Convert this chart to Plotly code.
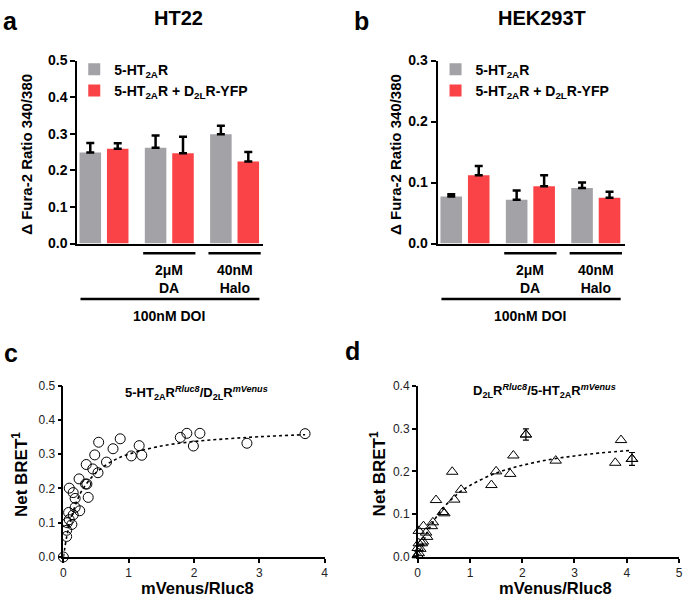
import plotly.graph_objects as go

# ---------------- data ----------------
groups = [0, 1, 2]  # 100nM DOI, +2uM DA, +40nM Halo

ht22_gray = [0.249, 0.262, 0.299]
ht22_gray_err = [0.026, 0.033, 0.023]
ht22_red = [0.259, 0.247, 0.224]
ht22_red_err = [0.015, 0.045, 0.026]

hek_gray = [0.077, 0.072, 0.091]
hek_gray_err = [0.004, 0.015, 0.009]
hek_red = [0.112, 0.094, 0.075]
hek_red_err = [0.015, 0.018, 0.010]

legend_gray = "5-HT<sub>2A</sub>R"
legend_red = "5-HT<sub>2A</sub>R + D<sub>2L</sub>R-YFP"
bar_yticks = [0.0, 0.1, 0.2, 0.3, 0.4, 0.5]
hek_yticks = [0.0, 0.1, 0.2, 0.3]

# panel c: 5-HT2AR-Rluc8 / D2LR-mVenus saturation
c_x = [0.0, 0.05, 0.05, 0.06, 0.08, 0.09, 0.09, 0.13, 0.15, 0.15, 0.18, 0.18, 0.24,
       0.25, 0.34, 0.36, 0.35, 0.38, 0.45, 0.48, 0.53, 0.54, 0.66, 0.76, 0.87, 1.04,
       1.16, 1.20, 1.79, 1.89, 1.99, 2.09, 2.81, 3.70]
c_y = [0.0, 0.060, 0.078, 0.100, 0.130, 0.109, 0.201, 0.095, 0.123, 0.188, 0.171, 0.145,
       0.228, 0.135, 0.213, 0.213, 0.270, 0.174, 0.257, 0.298, 0.246, 0.335, 0.277, 0.316,
       0.345, 0.295, 0.325, 0.297, 0.349, 0.361, 0.324, 0.361, 0.332, 0.360]
c_fit_x = [0.0, 0.05, 0.1, 0.2, 0.3, 0.5, 0.75, 1.0, 1.5, 2.0, 2.5, 3.0, 3.7]
c_fit_y = [0.0, 0.058, 0.101, 0.160, 0.199, 0.246, 0.280, 0.300, 0.324, 0.337, 0.345, 0.351, 0.357]

# panel d: D2LR-Rluc8 / 5-HT2AR-mVenus saturation
d_x = [0.0, 0.02, 0.05, 0.0, 0.02, 0.08, 0.10, 0.02, 0.11, 0.16, 0.18, 0.27, 0.29,
       0.35, 0.48, 0.51, 0.66, 0.70, 0.83, 1.41, 1.50, 1.77, 1.83, 2.07, 2.64, 3.78,
       3.89, 4.10]
d_y = [0.004, 0.009, 0.019, 0.021, 0.032, 0.032, 0.036, 0.061, 0.072, 0.057, 0.047,
       0.072, 0.081, 0.133, 0.105, 0.102, 0.199, 0.134, 0.157, 0.168, 0.200, 0.194,
       0.237, 0.286, 0.225, 0.220, 0.273, 0.229]
d_err = [0, 0, 0, 0, 0, 0, 0, 0, 0, 0, 0, 0, 0, 0, 0, 0, 0, 0, 0, 0, 0, 0, 0,
         0.013, 0, 0, 0, 0.015]
d_fit_x = [0.0, 0.1, 0.2, 0.3, 0.5, 0.75, 1.0, 1.5, 2.0, 2.5, 3.0, 3.5, 4.1]
d_fit_y = [0.0, 0.034, 0.061, 0.083, 0.116, 0.146, 0.167, 0.196, 0.214, 0.227, 0.236, 0.243, 0.249]

GRAY = "#A2A2A7"
RED = "#F94346"
BOLD = "Liberation Sans, Arial, sans-serif"

W, H = 685, 602


def px(x):
    return x / W


def py(y):
    return 1 - y / H


fig = go.Figure()

# ---------------- bar panels ----------------
for xa, ya, gv, ge, rv, re_, leg in [
    ("x", "y", ht22_gray, ht22_gray_err, ht22_red, ht22_red_err, "legend"),
    ("x2", "y2", hek_gray, hek_gray_err, hek_red, hek_red_err, "legend2"),
]:
    for vals, errs, color, name, off in [
        (gv, ge, GRAY, legend_gray, -0.375),
        (rv, re_, RED, legend_red, 0.045),
    ]:
        fig.add_trace(go.Bar(
            x=groups, y=vals, xaxis=xa, yaxis=ya, width=0.33, offset=off,
            marker=dict(color=color, line=dict(width=0)),
            error_y=dict(type="data", symmetric=False, array=errs,
                         arrayminus=[0] * len(errs), color="black",
                         thickness=2.5, width=4),
            name=name, legend=leg, showlegend=True,
        ))

# ---------------- scatter panels ----------------
fig.add_trace(go.Scatter(
    x=c_fit_x, y=c_fit_y, xaxis="x3", yaxis="y3", mode="lines",
    line=dict(color="black", width=1.6, dash="dot", shape="spline"),
    showlegend=False, hoverinfo="skip"))
fig.add_trace(go.Scatter(
    x=c_x, y=c_y, xaxis="x3", yaxis="y3", mode="markers", cliponaxis=False,
    marker=dict(symbol="circle-open", size=10, color="black", line=dict(width=1)),
    showlegend=False))

fig.add_trace(go.Scatter(
    x=d_fit_x, y=d_fit_y, xaxis="x4", yaxis="y4", mode="lines",
    line=dict(color="black", width=1.6, dash="dot", shape="spline"),
    showlegend=False, hoverinfo="skip"))
fig.add_trace(go.Scatter(
    x=d_x, y=d_y, xaxis="x4", yaxis="y4", mode="markers", cliponaxis=False,
    marker=dict(symbol="triangle-up-open", size=10, color="black", line=dict(width=1)),
    showlegend=False))
err_idx = [i for i, e in enumerate(d_err) if e > 0]
fig.add_trace(go.Scatter(
    x=[d_x[i] for i in err_idx], y=[d_y[i] for i in err_idx], xaxis="x4", yaxis="y4",
    mode="markers", cliponaxis=False,
    marker=dict(symbol="triangle-up-open", size=10, color="black", line=dict(width=1)),
    error_y=dict(type="data", array=[d_err[i] for i in err_idx], color="black",
                 thickness=1.2, width=3),
    showlegend=False))

# ---------------- axes ----------------
bar_y_common = dict(showgrid=False, zeroline=False, showline=True, linecolor="black",
                    linewidth=2, ticks="outside", ticklen=5, tickwidth=2, tickcolor="black",
                    tickformat=".1f", tickfont=dict(size=14, color="black", family=BOLD,
                                                    weight="bold"))
bar_x_common = dict(showgrid=False, zeroline=False, showline=True, linecolor="black",
                    linewidth=2, showticklabels=False, ticks="")

sc_common = dict(showgrid=False, zeroline=False, showline=True, linecolor="black",
                 linewidth=1.5, ticks="outside", ticklen=4, tickwidth=1.5,
                 tickcolor="black", tickfont=dict(size=12, color="#222",
                                                  family="Liberation Sans, Arial"))

fig.update_layout(
    xaxis=dict(domain=[px(75), px(263)], range=[-0.41, 2.44], anchor="y", **bar_x_common),
    yaxis=dict(domain=[py(242), py(54)], range=[0, 0.5], anchor="x",
               tickvals=bar_yticks, **bar_y_common),
    xaxis2=dict(domain=[px(439), px(628)], range=[-0.42, 2.44], anchor="y2", **bar_x_common),
    yaxis2=dict(domain=[py(242), py(54)], range=[0, 0.3], anchor="x2",
                tickvals=hek_yticks, **bar_y_common),
    xaxis3=dict(domain=[px(61), px(325)], range=[0, 4], anchor="y3",
                tickvals=[0, 1, 2, 3, 4], **sc_common),
    yaxis3=dict(domain=[py(564), py(388)], range=[0, 0.5], anchor="x3",
                tickvals=[0, 0.1, 0.2, 0.3, 0.4, 0.5], tickformat=".1f", **sc_common),
    xaxis4=dict(domain=[px(419), px(683)], range=[0, 5], anchor="y4",
                tickvals=[0, 1, 2, 3, 4, 5], **sc_common),
    yaxis4=dict(domain=[py(564), py(388)], range=[0, 0.4], anchor="x4",
                tickvals=[0, 0.1, 0.2, 0.3, 0.4], tickformat=".1f", **sc_common),
)

legend_style = dict(font=dict(size=14, color="black", family=BOLD, weight="bold"),
                    bgcolor="rgba(0,0,0,0)", traceorder="normal", yanchor="top",
                    xanchor="left", tracegroupgap=0, itemsizing="constant")
fig.update_layout(
    legend=dict(x=px(72), y=py(47), **legend_style),
    legend2=dict(x=px(437), y=py(47), **legend_style),
)

# ---------------- shapes (treatment brackets) ----------------
shapes = []
for xr in ["x", "x2"]:
    for x0, x1, yy in [(0.6, 1.4, 252), (1.6, 2.4, 252), (-0.36, 2.38, 299)]:
        shapes.append(dict(type="line", xref=xr, yref="paper", x0=x0, x1=x1,
                           y0=py(yy), y1=py(yy), line=dict(color="black", width=2.5)))
fig.update_layout(shapes=shapes)

# ---------------- annotations ----------------
ann = []
bf = lambda s: dict(size=s, color="black", family=BOLD, weight="bold")
for xr in ["x", "x2"]:
    ann.append(dict(x=1, y=py(259), xref=xr, yref="paper", text="2μM<br>DA",
                    showarrow=False, yanchor="top", font=bf(14)))
    ann.append(dict(x=2, y=py(259), xref=xr, yref="paper", text="40nM<br>Halo",
                    showarrow=False, yanchor="top", font=bf(14)))
    ann.append(dict(x=1, y=py(316), xref=xr, yref="paper", text="100nM DOI",
                    showarrow=False, yanchor="middle", font=bf(14)))

ann += [
    dict(x=px(177), y=py(10), text="HT22", font=bf(20)),
    dict(x=px(545), y=py(10), text="HEK293T", font=bf(20)),
    dict(x=px(8), y=py(13), text="a", font=bf(25)),
    dict(x=px(362), y=py(13), text="b", font=bf(25)),
    dict(x=px(8), y=py(354), text="c", font=bf(25)),
    dict(x=px(353), y=py(352), text="d", font=bf(25)),
    dict(x=px(23), y=py(150), text="Δ Fura-2 Ratio 340/380", textangle=-90, font=bf(15)),
    dict(x=px(396), y=py(150), text="Δ Fura-2 Ratio 340/380", textangle=-90, font=bf(15)),
    dict(x=px(17), y=py(479), text="Net BRET<sup>1</sup>", textangle=-90, font=bf(17)),
    dict(x=px(379), y=py(479), text="Net BRET<sup>1</sup>", textangle=-90, font=bf(17)),
    dict(x=px(197), y=py(595.5), text="mVenus/Rluc8", font=bf(16.5)),
    dict(x=px(558), y=py(595.5), text="mVenus/Rluc8", font=bf(16.5)),
    dict(x=px(196), y=py(396),
         text="5-HT<sub>2A</sub>R<sup><i>Rluc8</i></sup>/D<sub>2L</sub>R<sup><i>mVenus</i></sup>",
         font=bf(13)),
    dict(x=px(547), y=py(393),
         text="D<sub>2L</sub>R<sup><i>Rluc8</i></sup>/5-HT<sub>2A</sub>R<sup><i>mVenus</i></sup>",
         font=bf(13)),
]
for a in ann:
    a.setdefault("xref", "paper")
    a.setdefault("yref", "paper")
    a.setdefault("showarrow", False)
    a.setdefault("xanchor", "center")
    a.setdefault("yanchor", "middle")
fig.update_layout(annotations=ann)

fig.update_layout(
    width=W, height=H, margin=dict(l=0, r=0, t=0, b=0, pad=0),
    paper_bgcolor="white", plot_bgcolor="white", barmode="overlay",
    font=dict(family=BOLD, color="black"),
)

fig.write_html(
    "out.html",
    config={"displayModeBar": False},
    post_script="document.body.style.margin='0';document.body.style.padding='0';"
                "document.documentElement.style.overflow='hidden';",
)
